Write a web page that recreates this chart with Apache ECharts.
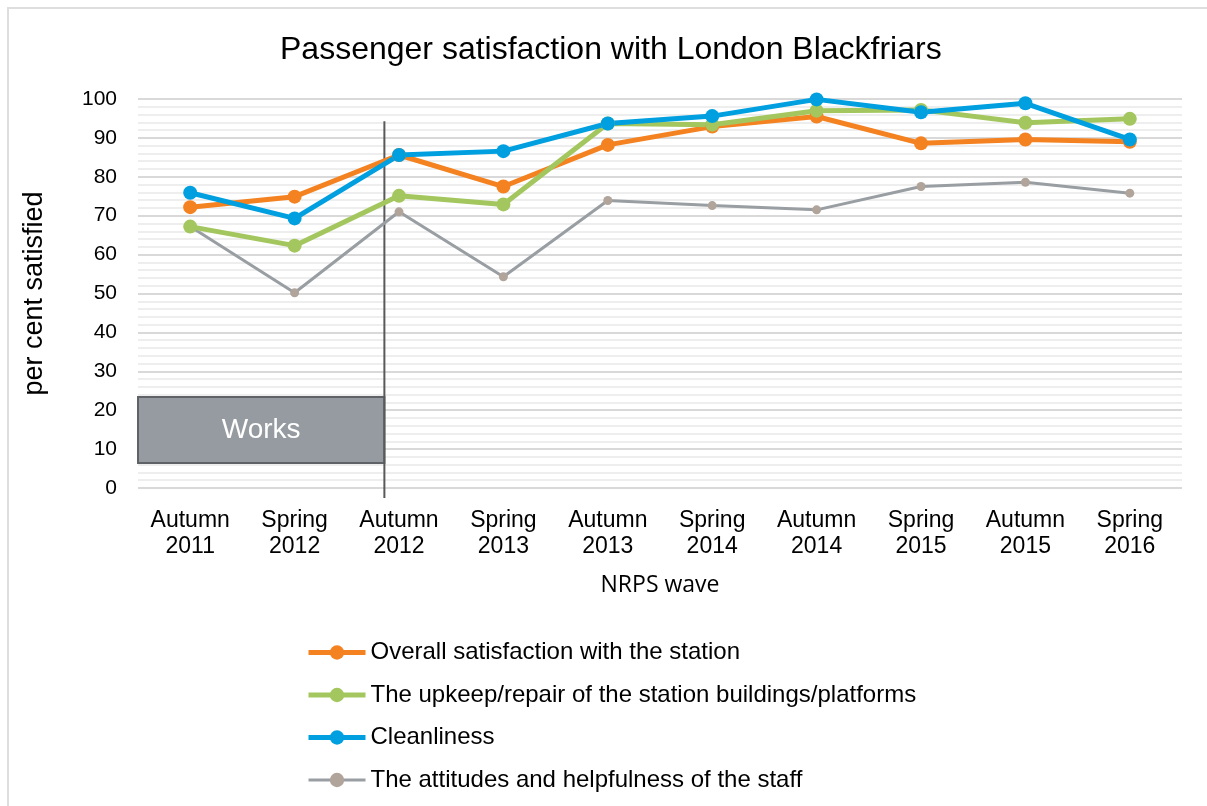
<!DOCTYPE html>
<html lang="en">
<head>
  <meta charset="UTF-8">
  <title>Passenger satisfaction with London Blackfriars</title>
  <style>
    body { margin: 0; background: #fff; }
    #frame {
      position: absolute;
      left: 7px;
      top: 7px;
      width: 1210px;
      height: 810px;
      border-left: 2px solid #dedede;
      border-top: 2px solid #dedede;
    }
    #main {
      position: absolute;
      left: 0;
      top: 0;
      width: 1207px;
      height: 806px;
    }
  </style>
  <script src="https://cdn.jsdelivr.net/npm/echarts@6/dist/echarts.min.js"></script>
</head>
<body>
  <div id="frame"></div>
  <div id="main"></div>

  <script>
    // NRPS waves
    var waves = ['Autumn\n2011', 'Spring\n2012', 'Autumn\n2012', 'Spring\n2013', 'Autumn\n2013',
      'Spring\n2014', 'Autumn\n2014', 'Spring\n2015', 'Autumn\n2015', 'Spring\n2016'];

    // per cent satisfied
    var overall = [72.2, 74.9, 85.6, 77.5, 88.2, 92.9, 95.5, 88.6, 89.6, 89.0];
    var upkeep = [67.2, 62.3, 75.1, 72.9, 93.7, 93.4, 97.0, 97.2, 93.9, 94.9];
    var cleanliness = [75.9, 69.3, 85.6, 86.6, 93.7, 95.6, 99.9, 96.6, 98.9, 89.6];
    var staff = [67.2, 50.2, 71.0, 54.3, 73.9, 72.6, 71.5, 77.5, 78.6, 75.8];

    var seriesNames = [
      'Overall satisfaction with the station',
      'The upkeep/repair of the station buildings/platforms',
      'Cleanliness',
      'The attitudes and helpfulness of the staff'
    ];

    // works period box and the divider line (in wave units on hidden value axes)
    var worksBox = { from: -0.52, to: 1.86, low: 6.4, high: 23.4 };
    var divider = { at: 1.86, low: -2.57, high: 94.3 };

    var myChart = echarts.init(document.getElementById('main'));

    function thick(name, data, color) {
      return {
        name: name,
        type: 'line',
        data: data,
        symbol: 'circle',
        symbolSize: 14,
        lineStyle: { width: 5, color: color },
        itemStyle: { color: color },
        z: 3
      };
    }

    var option = {
      animation: false,
      textStyle: { fontFamily: 'Liberation Sans, Arial, sans-serif' },
      title: {
        text: 'Passenger satisfaction with London Blackfriars',
        left: 275,
        top: 29,
        textStyle: { fontSize: 32, fontWeight: 'normal', color: '#000' }
      },
      legend: {
        orient: 'vertical',
        left: 301,
        top: 635,
        height: 200,
        itemWidth: 57,
        itemHeight: 18,
        itemGap: 17.5,
        textStyle: { fontSize: 24, color: '#000', lineHeight: 25 },
        data: [
          { name: seriesNames[0], lineStyle: { width: 5 } },
          { name: seriesNames[1], lineStyle: { width: 5 } },
          { name: seriesNames[2], lineStyle: { width: 5 } },
          { name: seriesNames[3], lineStyle: { width: 3 } }
        ]
      },
      grid: [
        { left: 138, right: 25, top: 99, bottom: 318 },
        // same box, stretched down to where the divider ends below the axis
        { left: 138, right: 25, top: 99, bottom: 308 }
      ],
      xAxis: [
        {
          type: 'category',
          data: waves,
          name: 'NRPS wave',
          nameLocation: 'middle',
          nameGap: 86,
          nameTextStyle: { fontSize: 23, color: '#000', fontFamily: 'Open Sans' },
          axisLine: { show: false },
          axisTick: { show: false },
          axisLabel: { fontSize: 23, color: '#000', lineHeight: 26.5, margin: 19, interval: 0 }
        },
        { type: 'value', min: -0.5, max: 9.5, show: false },
        { type: 'value', gridIndex: 1, min: -0.5, max: 9.5, show: false }
      ],
      yAxis: [
        {
          type: 'value',
          min: 0,
          max: 100,
          interval: 10,
          name: 'per cent satisfied',
          nameLocation: 'middle',
          nameGap: 90,
          nameTextStyle: { fontSize: 27, color: '#000' },
          axisLine: { show: false },
          axisTick: { show: false },
          axisLabel: { fontSize: 21, color: '#000', margin: 21 },
          splitLine: { lineStyle: { color: '#d9d9d9', width: 2 } },
          minorTick: { show: false, splitNumber: 5 },
          minorSplitLine: { show: true, lineStyle: { color: '#eeeeee', width: 2 } }
        },
        { type: 'value', gridIndex: 1, min: divider.low, max: 100, show: false }
      ],
      series: [
        thick(seriesNames[0], overall, '#f48221'),
        thick(seriesNames[1], upkeep, '#a3c75e'),
        thick(seriesNames[2], cleanliness, '#009fdf'),
        {
          name: seriesNames[3],
          type: 'line',
          data: staff,
          symbol: 'circle',
          symbolSize: 9,
          lineStyle: { width: 3, color: '#999ea3' },
          itemStyle: { color: '#b1a59b' },
          z: 2
        },
        {
          name: 'works',
          type: 'line',
          xAxisIndex: 1,
          data: [],
          silent: true,
          markArea: {
            silent: true,
            itemStyle: { color: '#959ba0', borderColor: '#5f6368', borderWidth: 2 },
            label: {
              show: true,
              position: 'inside',
              color: '#fff',
              fontSize: 28
            },
            data: [[
              { name: 'Works', coord: [worksBox.from, worksBox.high] },
              { coord: [worksBox.to, worksBox.low] }
            ]]
          }
        },
        {
          name: 'divider',
          type: 'line',
          xAxisIndex: 2,
          yAxisIndex: 1,
          silent: true,
          symbol: 'none',
          clip: false,
          lineStyle: { color: '#595959', width: 2 },
          data: [[divider.at, divider.low], [divider.at, divider.high]],
          z: 1
        }
      ]
    };

    myChart.setOption(option);
  </script>
</body>
</html>
